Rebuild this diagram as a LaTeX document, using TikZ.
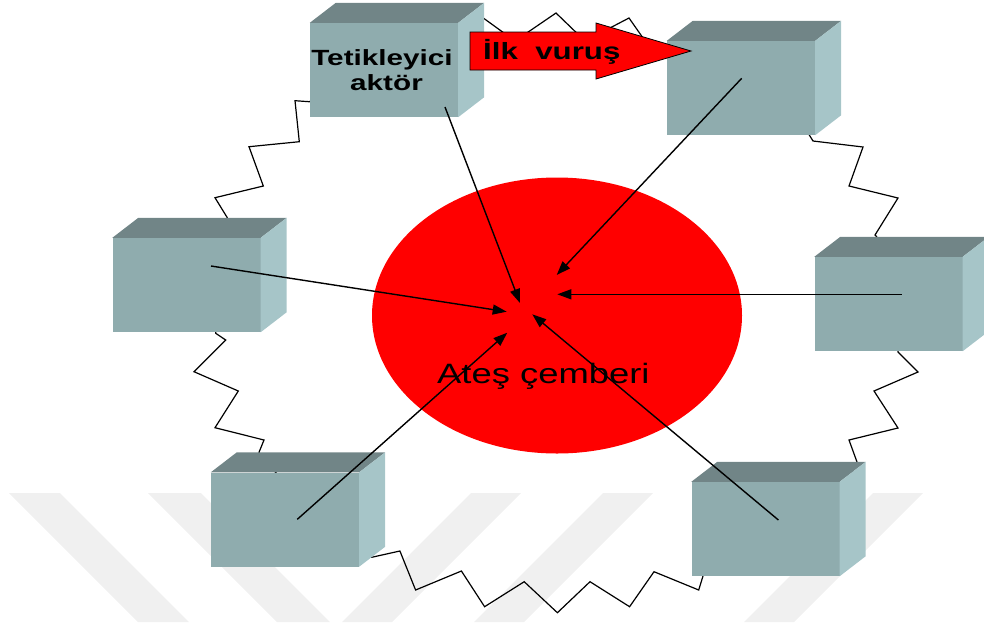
\documentclass[tikz,border=0pt]{standalone}
\usepackage{fontspec}
\setmainfont{Liberation Sans}
\usepackage{graphicx}
\usetikzlibrary{arrows.meta,shapes.geometric}
\definecolor{frontc}{HTML}{8FACAE}
\definecolor{topc}{HTML}{718587}
\definecolor{sidec}{HTML}{A6C5C8}
\definecolor{wmark}{HTML}{F0F0F0}
\newcommand\mycube[2]{%
  \node[front] (#1) at (#2) {};
  \fill[topc] (#1.north west) -- (#1.north east) -- ++(26,-20) -- ([shift={(26,-20)}]#1.north west) -- cycle;
  \fill[sidec] (#1.north east) -- ++(26,-20) -- ([shift={(26,-20)}]#1.south east) -- (#1.south east) -- cycle;
}
\begin{document}
\begin{tikzpicture}[x=1pt,y=-1pt,
  front/.style={fill=frontc, minimum width=148pt, minimum height=94pt, inner sep=0pt, draw=none},
  conn/.style={line width=1.4pt, -{Triangle[length=14pt,width=10pt]}},
  zig/.style={line width=1.2pt, line join=miter},
  band/.style={fill=wmark},
  boldlbl/.style={inner sep=0pt, font=\fontsize{22}{26}\selectfont\bfseries},
]
\useasboundingbox (0,0) rectangle (984,622);
\clip (0,0) rectangle (984,622);
% watermark
\fill[band] (9,493) -- (60,493) -- (189,622) -- (138,622) -- cycle;
\fill[band] (148,493) -- (201,493) -- (330,622) -- (277,622) -- cycle;
\fill[band] (471,493) -- (521,493) -- (392,622) -- (342,622) -- cycle;
\fill[band] (603,493) -- (653,493) -- (524,622) -- (474,622) -- cycle;
\fill[band] (873,493) -- (923,493) -- (794,622) -- (744,622) -- cycle;
% zigzag ring
\draw[zig] (475,12) -- (515,41) -- (556,13) -- (585,41) -- (629,18) -- (650,48) -- (690,60)
  -- (800,120) -- (813,141) -- (863,147) -- (849,186) -- (898,198) -- (875,235) -- (900,262)
  -- (898,352) -- (918,372) -- (874,391) -- (898,428) -- (849,440) -- (857,462) -- (840,500)
  -- (710,560) -- (703,576) -- (698.7,590) -- (654,571.7) -- (629.6,606.7) -- (590,581.7)
  -- (557.4,612.7) -- (524.2,581.7) -- (484.6,606.7) -- (461.4,571) -- (415.6,590)
  -- (399.9,551) -- (371.6,557.3) -- (350,540) -- (262,460) -- (259,452.3) -- (264,440)
  -- (215,427.7) -- (238.3,391) -- (194,371.7) -- (225.7,340) -- (215.7,333.3) -- (220,300)
  -- (227.3,217.7) -- (215,197.7) -- (263.3,186) -- (249,146.7) -- (299.3,141.7)
  -- (295,100.7) -- (309.3,101.7) -- (330,90) -- (450,40) -- cycle;
% fire circle
\node[ellipse, fill=red, draw=none, minimum width=370pt, minimum height=276pt, inner sep=0pt] (fire) at (557,315.5) {};
\node[anchor=base west, inner sep=0pt, font=\fontsize{28}{32}\selectfont] (firelbl) at (437,383) {\scalebox{1.3}[1]{Ateş çemberi}};
% cubes
\mycube{b1}{384,70}
\mycube{b2}{741,88}
\mycube{b3}{186.5,285}
\mycube{b4}{888.5,304}
\mycube{b5}{285,519.5}
\mycube{b6}{765.5,529}
\node[boldlbl, anchor=base] (lblA) at (382,65) {\scalebox{1.35}[1]{Tetikleyici}};
\node[boldlbl, anchor=base] (lblB) at (386.5,90.5) {\scalebox{1.35}[1]{aktör}};
% connectors
\coordinate (s1) at (445,107);  \coordinate (t1) at (520,303);
\coordinate (s2) at (741.7,78.3); \coordinate (t2) at (556.7,275);
\coordinate (s3) at (211,266);  \coordinate (t3) at (506.7,311.7);
\coordinate (s4) at (901.7,294.3); \coordinate (t4) at (557.3,294.3);
\coordinate (s5) at (297.3,519.3); \coordinate (t5) at (507.3,332.7);
\coordinate (s6) at (778.4,520); \coordinate (t6) at (532.3,314.3);
\draw[conn] (s1) -- (t1);
\draw[conn] (s2) -- (t2);
\draw[conn] (s3) -- (t3);
\draw[conn] (s4) -- (t4);
\draw[conn] (s5) -- (t5);
\draw[conn] (s6) -- (t6);
% first strike arrow
\draw[fill=red, line width=0.8pt, line join=miter] (470,32) -- (596,32) -- (596,23) -- (691,51) -- (596,79) -- (596,70) -- (470,70) -- cycle;
\node[boldlbl, anchor=base west, font=\fontsize{23.5}{26}\selectfont\bfseries] (strike) at (483,59) {\scalebox{1.33}[1]{İlk\ \ vuruş}};
\end{tikzpicture}
\end{document}
